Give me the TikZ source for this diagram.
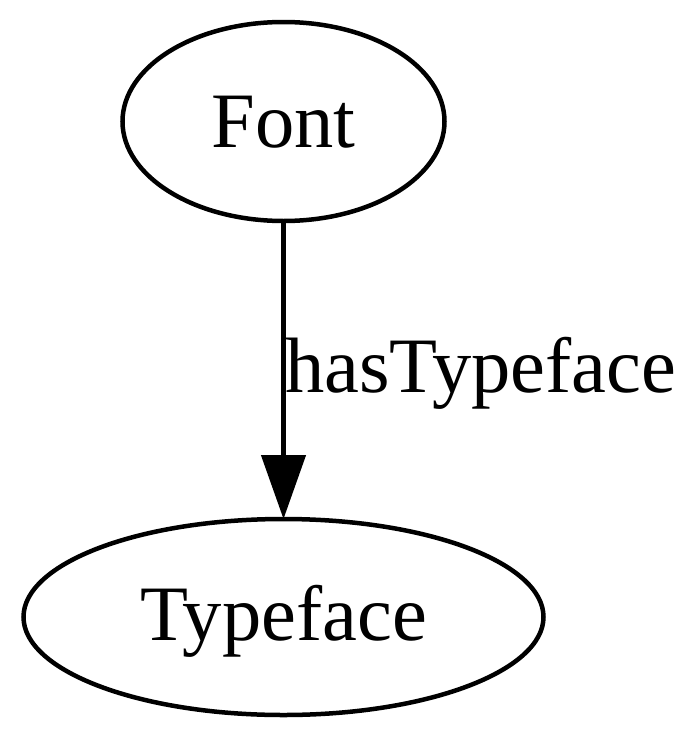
\documentclass[tikz,border=0pt]{standalone}
\usepackage{fontspec}
\setmainfont{Liberation Serif}
\usetikzlibrary{shapes.geometric,arrows.meta}
\begin{document}
\begin{tikzpicture}[x=1pt,y=-1pt,
  gvnode/.style={draw=black,line width=4.5pt,ellipse,inner sep=0pt,outer sep=0pt,
    font=\fontsize{78.5}{94}\selectfont,text depth=0pt},
  gvlabel/.style={inner sep=0pt,font=\fontsize{78.5}{94}\selectfont,anchor=base west},
  gvedge/.style={line width=4.5pt,-{Triangle[length=64pt,width=44pt]}}]
\useasboundingbox (0,0) rectangle (700,739);
\node[gvnode,minimum width=322pt,minimum height=199pt,text height=51pt] (font) at (283.5,121.5) {Font};
\node[gvnode,minimum width=520pt,minimum height=196pt,text height=46pt] (typeface) at (283.5,617) {Typeface};
\draw[gvedge] (font.south) -- (typeface.north);
\node[gvlabel] (lbl) at (285,392) {hasTypeface};
\end{tikzpicture}
\end{document}
